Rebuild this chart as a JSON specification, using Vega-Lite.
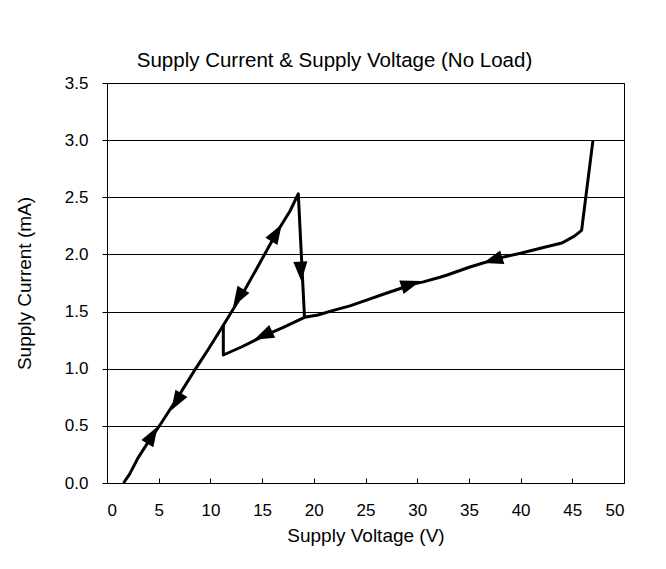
{
  "$schema": "https://vega.github.io/schema/vega-lite/v6.json",
  "width": 517,
  "height": 400,
  "autosize": {"type": "none"},
  "padding": {"left": 107, "top": 83, "right": 42, "bottom": 86},
  "background": "white",
  "title": {
    "text": "Supply Current & Supply Voltage (No Load)",
    "font": "Liberation Sans",
    "fontSize": 20.5,
    "fontWeight": "normal",
    "color": "black",
    "anchor": "middle",
    "dx": -31,
    "offset": 3
  },
  "datasets": {
    "curve": [
      {"branch": "up", "i": 1, "v": 1.6, "a": 0.0},
      {"branch": "up", "i": 2, "v": 2.2, "a": 0.08},
      {"branch": "up", "i": 3, "v": 3.0, "a": 0.22},
      {"branch": "up", "i": 4, "v": 4.0, "a": 0.36},
      {"branch": "up", "i": 5, "v": 5.0, "a": 0.49},
      {"branch": "up", "i": 6, "v": 6.5, "a": 0.7},
      {"branch": "up", "i": 7, "v": 8.5, "a": 0.99},
      {"branch": "up", "i": 8, "v": 9.8, "a": 1.17},
      {"branch": "up", "i": 9, "v": 11.25, "a": 1.38},
      {"branch": "up", "i": 10, "v": 12.2, "a": 1.52},
      {"branch": "up", "i": 11, "v": 13.2, "a": 1.67},
      {"branch": "up", "i": 12, "v": 14.5, "a": 1.88},
      {"branch": "up", "i": 13, "v": 16.4, "a": 2.19},
      {"branch": "up", "i": 14, "v": 17.7, "a": 2.38},
      {"branch": "up", "i": 15, "v": 18.5, "a": 2.53},
      {"branch": "up", "i": 16, "v": 19.1, "a": 1.45},
      {"branch": "up", "i": 17, "v": 20.4, "a": 1.47},
      {"branch": "up", "i": 18, "v": 21.9, "a": 1.51},
      {"branch": "up", "i": 19, "v": 23.5, "a": 1.55},
      {"branch": "up", "i": 20, "v": 25.1, "a": 1.6},
      {"branch": "up", "i": 21, "v": 27.0, "a": 1.66},
      {"branch": "up", "i": 22, "v": 28.3, "a": 1.7},
      {"branch": "up", "i": 23, "v": 29.6, "a": 1.74},
      {"branch": "up", "i": 24, "v": 30.6, "a": 1.76},
      {"branch": "up", "i": 25, "v": 32.2, "a": 1.8},
      {"branch": "up", "i": 26, "v": 32.9, "a": 1.82},
      {"branch": "up", "i": 27, "v": 35.1, "a": 1.89},
      {"branch": "up", "i": 28, "v": 38.0, "a": 1.97},
      {"branch": "up", "i": 29, "v": 40.0, "a": 2.01},
      {"branch": "up", "i": 30, "v": 42.2, "a": 2.06},
      {"branch": "up", "i": 31, "v": 44.0, "a": 2.1},
      {"branch": "up", "i": 32, "v": 45.2, "a": 2.16},
      {"branch": "up", "i": 33, "v": 45.9, "a": 2.21},
      {"branch": "up", "i": 34, "v": 47.0, "a": 3.0},
      {"branch": "down", "i": 1, "v": 19.1, "a": 1.45},
      {"branch": "down", "i": 2, "v": 17.0, "a": 1.36},
      {"branch": "down", "i": 3, "v": 15.0, "a": 1.28},
      {"branch": "down", "i": 4, "v": 13.0, "a": 1.19},
      {"branch": "down", "i": 5, "v": 11.25, "a": 1.12},
      {"branch": "down", "i": 6, "v": 11.25, "a": 1.38}
    ],
    "arrows": [
      {"v": 4.4, "a": 0.42, "dir": "up-main"},
      {"v": 6.7, "a": 0.71, "dir": "down-main"},
      {"v": 12.7, "a": 1.62, "dir": "down-main"},
      {"v": 16.4, "a": 2.19, "dir": "up-main"},
      {"v": 18.75, "a": 1.85, "dir": "drop"},
      {"v": 15.1, "a": 1.29, "dir": "left-lower"},
      {"v": 29.4, "a": 1.74, "dir": "right-upper"},
      {"v": 37.3, "a": 1.95, "dir": "left-upper"}
    ]
  },
  "config": {
    "view": {"stroke": "black", "strokeWidth": 1},
    "axis": {
      "labelFont": "Liberation Sans",
      "titleFont": "Liberation Sans",
      "labelFontSize": 17,
      "titleFontSize": 19,
      "titleFontWeight": "normal",
      "labelColor": "black",
      "titleColor": "black",
      "domainColor": "black",
      "tickColor": "black",
      "gridColor": "black",
      "gridOpacity": 1
    }
  },
  "layer": [
    {
      "data": {"name": "curve"},
      "mark": {"type": "line", "color": "black", "strokeWidth": 3, "strokeJoin": "round"},
      "encoding": {
        "x": {
          "field": "v", "type": "quantitative",
          "scale": {"domain": [0, 50], "nice": false},
          "axis": {
            "title": "Supply Voltage (V)",
            "values": [0, 5, 10, 15, 20, 25, 30, 35, 40, 45, 50],
            "grid": false,
            "tickSize": -5,
            "labelPadding": 24,
            "titlePadding": 8
          }
        },
        "y": {
          "field": "a", "type": "quantitative",
          "scale": {"domain": [0, 3.5], "nice": false},
          "axis": {
            "title": "Supply Current (mA)",
            "values": [0, 0.5, 1, 1.5, 2, 2.5, 3, 3.5],
            "format": ".1f",
            "grid": true,
            "tickSize": 5,
            "labelPadding": 14,
            "titlePadding": 30
          }
        },
        "detail": {"field": "branch"},
        "order": {"field": "i"}
      }
    },
    {
      "data": {"name": "arrows"},
      "mark": {"type": "point", "shape": "M0,-1L0.7,1L-0.7,1Z", "filled": true, "color": "black", "opacity": 1, "size": 400, "strokeWidth": 0},
      "encoding": {
        "x": {"field": "v", "type": "quantitative"},
        "y": {"field": "a", "type": "quantitative"},
        "angle": {
          "field": "dir", "type": "nominal",
          "scale": {
            "type": "ordinal",
            "domain": ["up-main", "down-main", "drop", "left-lower", "right-upper", "left-upper"],
            "range": [31, 211, 177, 245, 72, 253]
          },
          "legend": null
        }
      }
    }
  ]
}
